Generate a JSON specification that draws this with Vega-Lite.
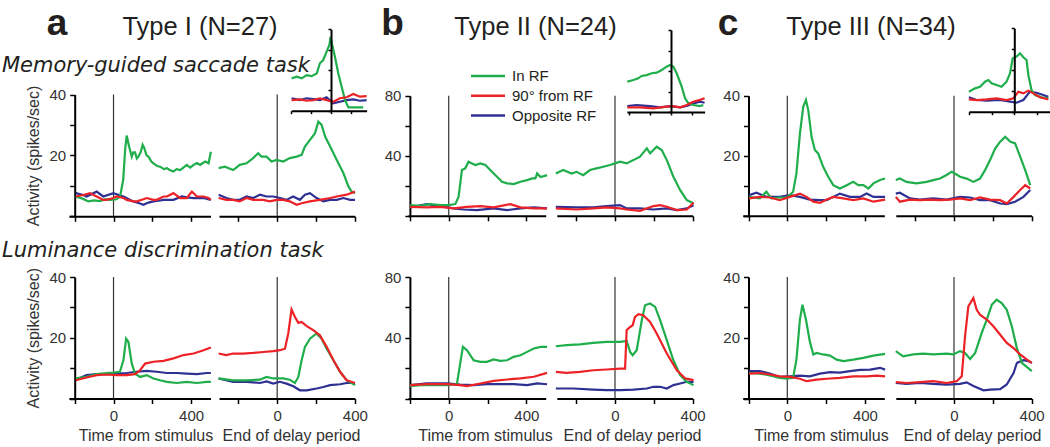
{
"$schema": "https://vega.github.io/schema/vega-lite/v6.json",
"width": 1050, "height": 447,
"autosize": {"type": "none"},
"padding": 0,
"background": "white",
"config": {
  "view": {"stroke": null},
  "font": "Liberation Sans",
  "line": {"strokeWidth": 2.2},
  "axis": {"domainColor": "#000", "domainWidth": 2, "tickColor": "#000", "tickWidth": 1.5, "tickSize": 5,
           "labelFont": "Liberation Sans", "labelFontSize": 15, "labelColor": "#333", "labelPadding": 4,
           "labelFlush": false, "labelOverlap": false, "grid": false,
           "titleFont": "Liberation Sans", "titleFontSize": 16, "titleFontWeight": "normal", "titleColor": "#333", "titlePadding": 4}
},
"datasets": {
"aL1": [
{"s":"b","t":-194,"v":7.6},{"s":"b","t":-156,"v":7.0},{"s":"b","t":-139,"v":6.5},{"s":"b","t":-87,"v":8.1},{"s":"b","t":-53,"v":6.5},{"s":"b","t":-1,"v":7.6},{"s":"b","t":51,"v":6.5},{"s":"b","t":102,"v":4.9},{"s":"b","t":137,"v":4.2},{"s":"b","t":154,"v":3.8},{"s":"b","t":180,"v":4.5},{"s":"b","t":206,"v":4.9},{"s":"b","t":240,"v":5.2},{"s":"b","t":258,"v":5.4},{"s":"b","t":309,"v":5.4},{"s":"b","t":352,"v":6.5},{"s":"b","t":378,"v":6.2},{"s":"b","t":413,"v":6.0},{"s":"b","t":464,"v":6.0},{"s":"b","t":502,"v":5.4},
{"s":"g","t":-195,"v":6.5},{"s":"g","t":-160,"v":5.8},{"s":"g","t":-130,"v":4.9},{"s":"g","t":-100,"v":5.2},{"s":"g","t":-70,"v":5.0},{"s":"g","t":-40,"v":5.6},{"s":"g","t":-18,"v":5.4},{"s":"g","t":16,"v":5.6},{"s":"g","t":34,"v":6.5},{"s":"g","t":50,"v":12},{"s":"g","t":60,"v":22},{"s":"g","t":68,"v":26.5},{"s":"g","t":80,"v":23},{"s":"g","t":94,"v":19.6},{"s":"g","t":102,"v":21},{"s":"g","t":111,"v":21},{"s":"g","t":120,"v":19},{"s":"g","t":128,"v":19.6},{"s":"g","t":140,"v":21},{"s":"g","t":150,"v":23.5},{"s":"g","t":158,"v":22.5},{"s":"g","t":170,"v":20},{"s":"g","t":180,"v":19.6},{"s":"g","t":195,"v":18},{"s":"g","t":206,"v":17.4},{"s":"g","t":225,"v":16.5},{"s":"g","t":240,"v":16.3},{"s":"g","t":260,"v":15.5},{"s":"g","t":275,"v":15.8},{"s":"g","t":290,"v":15.2},{"s":"g","t":309,"v":14.7},{"s":"g","t":325,"v":15.5},{"s":"g","t":344,"v":15.2},{"s":"g","t":360,"v":16},{"s":"g","t":378,"v":16.9},{"s":"g","t":395,"v":16},{"s":"g","t":413,"v":16.9},{"s":"g","t":430,"v":17.5},{"s":"g","t":447,"v":16.9},{"s":"g","t":460,"v":17.5},{"s":"g","t":473,"v":18},{"s":"g","t":490,"v":17.4},{"s":"g","t":502,"v":21.2},
{"s":"r","t":-194,"v":6.5},{"s":"r","t":-156,"v":7.0},{"s":"r","t":-121,"v":7.6},{"s":"r","t":-87,"v":6.5},{"s":"r","t":-53,"v":5.4},{"s":"r","t":-35,"v":5.4},{"s":"r","t":-1,"v":6.0},{"s":"r","t":16,"v":6.5},{"s":"r","t":51,"v":6.0},{"s":"r","t":68,"v":5.4},{"s":"r","t":102,"v":4.9},{"s":"r","t":120,"v":4.9},{"s":"r","t":154,"v":5.6},{"s":"r","t":171,"v":6.0},{"s":"r","t":206,"v":5.4},{"s":"r","t":223,"v":5.4},{"s":"r","t":258,"v":6.5},{"s":"r","t":275,"v":6.5},{"s":"r","t":309,"v":7.6},{"s":"r","t":344,"v":6.0},{"s":"r","t":378,"v":6.0},{"s":"r","t":404,"v":8.1},{"s":"r","t":430,"v":6.5},{"s":"r","t":464,"v":6.5},{"s":"r","t":490,"v":6.0},{"s":"r","t":502,"v":5.4}
],
"aR1": [
{"s":"b","t":-302,"v":7.1},{"s":"b","t":-262,"v":6.0},{"s":"b","t":-227,"v":5.4},{"s":"b","t":-193,"v":5.4},{"s":"b","t":-158,"v":6.5},{"s":"b","t":-124,"v":6.0},{"s":"b","t":-89,"v":7.1},{"s":"b","t":-55,"v":6.5},{"s":"b","t":-20,"v":6.5},{"s":"b","t":14,"v":6.0},{"s":"b","t":48,"v":5.4},{"s":"b","t":82,"v":6.5},{"s":"b","t":117,"v":5.4},{"s":"b","t":143,"v":7.1},{"s":"b","t":169,"v":7.6},{"s":"b","t":203,"v":6.0},{"s":"b","t":238,"v":4.9},{"s":"b","t":272,"v":5.4},{"s":"b","t":307,"v":5.4},{"s":"b","t":341,"v":6.0},{"s":"b","t":376,"v":5.4},{"s":"b","t":401,"v":5.4},
{"s":"g","t":-302,"v":15.8},{"s":"g","t":-270,"v":16.3},{"s":"g","t":-227,"v":15.2},{"s":"g","t":-193,"v":16.9},{"s":"g","t":-158,"v":17.4},{"s":"g","t":-124,"v":19.1},{"s":"g","t":-98,"v":20.7},{"s":"g","t":-81,"v":19.6},{"s":"g","t":-55,"v":19.6},{"s":"g","t":-29,"v":18},{"s":"g","t":-3,"v":18.5},{"s":"g","t":31,"v":18},{"s":"g","t":65,"v":19.1},{"s":"g","t":100,"v":19.6},{"s":"g","t":126,"v":20.2},{"s":"g","t":143,"v":22.9},{"s":"g","t":169,"v":25.1},{"s":"g","t":195,"v":27.3},{"s":"g","t":212,"v":31.1},{"s":"g","t":229,"v":30},{"s":"g","t":247,"v":26.2},{"s":"g","t":273,"v":22.9},{"s":"g","t":307,"v":18.5},{"s":"g","t":341,"v":14.2},{"s":"g","t":367,"v":9.8},{"s":"g","t":384,"v":8.1},{"s":"g","t":401,"v":7.6},
{"s":"r","t":-302,"v":6.0},{"s":"r","t":-262,"v":5.4},{"s":"r","t":-227,"v":5.4},{"s":"r","t":-193,"v":4.9},{"s":"r","t":-158,"v":6.0},{"s":"r","t":-124,"v":5.4},{"s":"r","t":-72,"v":5.4},{"s":"r","t":-38,"v":4.9},{"s":"r","t":-3,"v":5.4},{"s":"r","t":31,"v":5.4},{"s":"r","t":65,"v":4.9},{"s":"r","t":100,"v":3.8},{"s":"r","t":126,"v":4.3},{"s":"r","t":169,"v":4.9},{"s":"r","t":220,"v":5.4},{"s":"r","t":273,"v":6.0},{"s":"r","t":307,"v":6.5},{"s":"r","t":358,"v":7.1},{"s":"r","t":401,"v":8.1}
],
"aL2": [
{"s":"b","t":-194,"v":6.2},{"s":"b","t":-139,"v":7.7},{"s":"b","t":-87,"v":8.0},{"s":"b","t":-35,"v":8.0},{"s":"b","t":16,"v":8.2},{"s":"b","t":68,"v":8.4},{"s":"b","t":120,"v":8.8},{"s":"b","t":171,"v":9.1},{"s":"b","t":223,"v":8.8},{"s":"b","t":275,"v":8.4},{"s":"b","t":326,"v":8.4},{"s":"b","t":378,"v":8.2},{"s":"b","t":430,"v":8.0},{"s":"b","t":481,"v":8.4},{"s":"b","t":502,"v":8.4},
{"s":"g","t":-194,"v":6.6},{"s":"g","t":-139,"v":7.1},{"s":"g","t":-87,"v":8.0},{"s":"g","t":-35,"v":8.4},{"s":"g","t":-1,"v":8.5},{"s":"g","t":33,"v":8.8},{"s":"g","t":51,"v":12.6},{"s":"g","t":65,"v":19.7},{"s":"g","t":77,"v":18.6},{"s":"g","t":94,"v":11.5},{"s":"g","t":111,"v":8.2},{"s":"g","t":137,"v":7.1},{"s":"g","t":171,"v":7.7},{"s":"g","t":206,"v":6.6},{"s":"g","t":240,"v":6.0},{"s":"g","t":275,"v":5.5},{"s":"g","t":326,"v":5.1},{"s":"g","t":378,"v":5.5},{"s":"g","t":430,"v":5.1},{"s":"g","t":481,"v":5.5},{"s":"g","t":502,"v":5.5},
{"s":"r","t":-194,"v":6.0},{"s":"r","t":-139,"v":6.9},{"s":"r","t":-87,"v":7.7},{"s":"r","t":-35,"v":7.9},{"s":"r","t":16,"v":7.7},{"s":"r","t":68,"v":7.7},{"s":"r","t":111,"v":8.0},{"s":"r","t":137,"v":9.3},{"s":"r","t":163,"v":11.5},{"s":"r","t":206,"v":12.1},{"s":"r","t":258,"v":12.4},{"s":"r","t":309,"v":13.2},{"s":"r","t":361,"v":14.3},{"s":"r","t":413,"v":14.8},{"s":"r","t":464,"v":15.9},{"s":"r","t":502,"v":16.8}
],
"aR2": [
{"s":"b","t":-302,"v":6.6},{"s":"b","t":-227,"v":5.5},{"s":"b","t":-158,"v":5.5},{"s":"b","t":-89,"v":5.1},{"s":"b","t":-55,"v":5.6},{"s":"b","t":-20,"v":4.9},{"s":"b","t":14,"v":5.5},{"s":"b","t":48,"v":4.9},{"s":"b","t":83,"v":4.0},{"s":"b","t":117,"v":2.7},{"s":"b","t":152,"v":2.7},{"s":"b","t":203,"v":3.3},{"s":"b","t":238,"v":3.8},{"s":"b","t":272,"v":4.4},{"s":"b","t":324,"v":4.7},{"s":"b","t":358,"v":5.1},{"s":"b","t":401,"v":5.1},
{"s":"g","t":-302,"v":6.6},{"s":"g","t":-227,"v":6.0},{"s":"g","t":-158,"v":6.0},{"s":"g","t":-89,"v":6.2},{"s":"g","t":-55,"v":7.1},{"s":"g","t":-20,"v":6.6},{"s":"g","t":31,"v":6.6},{"s":"g","t":65,"v":6.2},{"s":"g","t":91,"v":5.1},{"s":"g","t":109,"v":7.1},{"s":"g","t":126,"v":12.6},{"s":"g","t":143,"v":17.0},{"s":"g","t":169,"v":19.7},{"s":"g","t":203,"v":21.4},{"s":"g","t":229,"v":19.7},{"s":"g","t":255,"v":16.4},{"s":"g","t":290,"v":12.6},{"s":"g","t":324,"v":8.8},{"s":"g","t":358,"v":6.0},{"s":"g","t":401,"v":4.4},
{"s":"r","t":-302,"v":14.8},{"s":"r","t":-262,"v":14.3},{"s":"r","t":-227,"v":14.8},{"s":"r","t":-176,"v":14.8},{"s":"r","t":-124,"v":15.0},{"s":"r","t":-72,"v":15.3},{"s":"r","t":-20,"v":15.6},{"s":"r","t":14,"v":15.9},{"s":"r","t":40,"v":16.4},{"s":"r","t":57,"v":21.4},{"s":"r","t":74,"v":29.3},{"s":"r","t":91,"v":26.9},{"s":"r","t":109,"v":24.9},{"s":"r","t":126,"v":25.2},{"s":"r","t":152,"v":23.8},{"s":"r","t":186,"v":22.5},{"s":"r","t":220,"v":20.8},{"s":"r","t":255,"v":17.0},{"s":"r","t":290,"v":12.6},{"s":"r","t":324,"v":8.8},{"s":"r","t":358,"v":6.0},{"s":"r","t":401,"v":5.1}
],
"bL1": [
{"s":"b","t":-199,"v":5.6},{"s":"b","t":-113,"v":7.8},{"s":"b","t":-44,"v":6.4},{"s":"b","t":25,"v":4.9},{"s":"b","t":77,"v":4.2},{"s":"b","t":146,"v":3.8},{"s":"b","t":232,"v":4.9},{"s":"b","t":301,"v":3.8},{"s":"b","t":370,"v":4.9},{"s":"b","t":439,"v":5.6},{"s":"b","t":507,"v":4.9},
{"s":"g","t":-199,"v":7.1},{"s":"g","t":-147,"v":6.7},{"s":"g","t":-96,"v":7.8},{"s":"g","t":-44,"v":7.1},{"s":"g","t":-1,"v":7.1},{"s":"g","t":34,"v":7.8},{"s":"g","t":51,"v":12.7},{"s":"g","t":68,"v":30.5},{"s":"g","t":85,"v":31.6},{"s":"g","t":102,"v":36},{"s":"g","t":120,"v":34.9},{"s":"g","t":137,"v":33.8},{"s":"g","t":163,"v":34.9},{"s":"g","t":189,"v":33.8},{"s":"g","t":214,"v":30.5},{"s":"g","t":249,"v":26},{"s":"g","t":275,"v":22.7},{"s":"g","t":301,"v":21.6},{"s":"g","t":335,"v":21.1},{"s":"g","t":370,"v":22.7},{"s":"g","t":404,"v":23.8},{"s":"g","t":430,"v":24.9},{"s":"g","t":447,"v":24.9},{"s":"g","t":456,"v":28.2},{"s":"g","t":473,"v":25.8},{"s":"g","t":490,"v":26.4},{"s":"g","t":507,"v":27.1},
{"s":"r","t":-199,"v":6.0},{"s":"r","t":-113,"v":5.6},{"s":"r","t":-44,"v":6.0},{"s":"r","t":25,"v":4.9},{"s":"r","t":94,"v":6.0},{"s":"r","t":163,"v":6.4},{"s":"r","t":232,"v":5.6},{"s":"r","t":318,"v":7.8},{"s":"r","t":370,"v":5.6},{"s":"r","t":439,"v":4.9},{"s":"r","t":507,"v":4.9}
],
"bR1": [
{"s":"b","t":-305,"v":6.0},{"s":"b","t":-198,"v":5.6},{"s":"b","t":-112,"v":5.6},{"s":"b","t":-43,"v":6.4},{"s":"b","t":26,"v":7.1},{"s":"b","t":60,"v":4.9},{"s":"b","t":129,"v":4.9},{"s":"b","t":198,"v":4.2},{"s":"b","t":267,"v":4.9},{"s":"b","t":319,"v":3.8},{"s":"b","t":370,"v":4.9},{"s":"b","t":405,"v":7.1},
{"s":"g","t":-305,"v":28.2},{"s":"g","t":-267,"v":30.5},{"s":"g","t":-224,"v":28.2},{"s":"g","t":-198,"v":29.3},{"s":"g","t":-164,"v":27.1},{"s":"g","t":-129,"v":30.5},{"s":"g","t":-95,"v":31.6},{"s":"g","t":-60,"v":32.7},{"s":"g","t":-26,"v":33.8},{"s":"g","t":0,"v":34.9},{"s":"g","t":26,"v":36},{"s":"g","t":60,"v":34.9},{"s":"g","t":95,"v":37.1},{"s":"g","t":129,"v":39.4},{"s":"g","t":164,"v":44.9},{"s":"g","t":181,"v":41.6},{"s":"g","t":215,"v":46},{"s":"g","t":241,"v":43.8},{"s":"g","t":267,"v":37.1},{"s":"g","t":301,"v":26},{"s":"g","t":336,"v":17.1},{"s":"g","t":370,"v":10.5},{"s":"g","t":405,"v":8.2},
{"s":"r","t":-305,"v":4.9},{"s":"r","t":-198,"v":4.2},{"s":"r","t":-112,"v":4.9},{"s":"r","t":-43,"v":5.6},{"s":"r","t":26,"v":4.9},{"s":"r","t":60,"v":4.2},{"s":"r","t":129,"v":3.3},{"s":"r","t":198,"v":6.5},{"s":"r","t":233,"v":7.1},{"s":"r","t":267,"v":6.0},{"s":"r","t":319,"v":3.8},{"s":"r","t":370,"v":4.2},{"s":"r","t":405,"v":8.7}
],
"bL2": [
{"s":"b","t":-199,"v":8.8},{"s":"b","t":-113,"v":9.9},{"s":"b","t":-9,"v":9.9},{"s":"b","t":59,"v":9.2},{"s":"b","t":128,"v":8.8},{"s":"b","t":197,"v":9.4},{"s":"b","t":266,"v":9.4},{"s":"b","t":335,"v":9.4},{"s":"b","t":404,"v":8.8},{"s":"b","t":456,"v":9.9},{"s":"b","t":507,"v":9.4},
{"s":"g","t":-199,"v":8.1},{"s":"g","t":-147,"v":8.8},{"s":"g","t":-78,"v":8.8},{"s":"g","t":-9,"v":8.8},{"s":"g","t":42,"v":9.4},{"s":"g","t":59,"v":23},{"s":"g","t":73,"v":34},{"s":"g","t":94,"v":31.8},{"s":"g","t":128,"v":25.2},{"s":"g","t":163,"v":24.1},{"s":"g","t":197,"v":24.1},{"s":"g","t":232,"v":25.7},{"s":"g","t":266,"v":24.8},{"s":"g","t":301,"v":25.2},{"s":"g","t":335,"v":27.4},{"s":"g","t":370,"v":28.5},{"s":"g","t":404,"v":30.7},{"s":"g","t":439,"v":32.9},{"s":"g","t":473,"v":34},{"s":"g","t":507,"v":34},
{"s":"r","t":-199,"v":8.8},{"s":"r","t":-113,"v":9.4},{"s":"r","t":-9,"v":9.4},{"s":"r","t":59,"v":8.8},{"s":"r","t":94,"v":8.1},{"s":"r","t":163,"v":9.9},{"s":"r","t":232,"v":11.6},{"s":"r","t":301,"v":12.5},{"s":"r","t":370,"v":13.2},{"s":"r","t":439,"v":14.3},{"s":"r","t":507,"v":16.9}
],
"bR2": [
{"s":"b","t":-305,"v":6.6},{"s":"b","t":-215,"v":6.6},{"s":"b","t":-112,"v":5.9},{"s":"b","t":-43,"v":5.5},{"s":"b","t":26,"v":5.5},{"s":"b","t":95,"v":5.9},{"s":"b","t":164,"v":6.6},{"s":"b","t":198,"v":7.7},{"s":"b","t":233,"v":7.7},{"s":"b","t":267,"v":6.6},{"s":"b","t":301,"v":8.8},{"s":"b","t":336,"v":9.9},{"s":"b","t":370,"v":11},{"s":"b","t":405,"v":11},
{"s":"g","t":-305,"v":34.4},{"s":"g","t":-250,"v":35.1},{"s":"g","t":-181,"v":35.7},{"s":"g","t":-112,"v":36.6},{"s":"g","t":-43,"v":37.3},{"s":"g","t":26,"v":37.3},{"s":"g","t":60,"v":37.9},{"s":"g","t":78,"v":30.7},{"s":"g","t":91,"v":28.5},{"s":"g","t":112,"v":31.8},{"s":"g","t":138,"v":51.5},{"s":"g","t":155,"v":61.4},{"s":"g","t":181,"v":62.5},{"s":"g","t":207,"v":60.3},{"s":"g","t":233,"v":51.5},{"s":"g","t":267,"v":38.4},{"s":"g","t":301,"v":25.2},{"s":"g","t":336,"v":15.4},{"s":"g","t":370,"v":11.0},{"s":"g","t":405,"v":8.8},
{"s":"r","t":-305,"v":17.5},{"s":"r","t":-250,"v":16.9},{"s":"r","t":-181,"v":17.5},{"s":"r","t":-112,"v":18.6},{"s":"r","t":-43,"v":19.1},{"s":"r","t":26,"v":19.7},{"s":"r","t":52,"v":19.7},{"s":"r","t":60,"v":45},{"s":"r","t":78,"v":47.1},{"s":"r","t":91,"v":48.2},{"s":"r","t":103,"v":53.7},{"s":"r","t":121,"v":55.5},{"s":"r","t":146,"v":54.8},{"s":"r","t":181,"v":50.4},{"s":"r","t":215,"v":42.8},{"s":"r","t":267,"v":29.6},{"s":"r","t":319,"v":18.6},{"s":"r","t":362,"v":13.2},{"s":"r","t":405,"v":12.1}
],
"cL1": [
{"s":"b","t":-197,"v":6.9},{"s":"b","t":-159,"v":7.7},{"s":"b","t":-108,"v":6.3},{"s":"b","t":-39,"v":6.3},{"s":"b","t":13,"v":6.9},{"s":"b","t":65,"v":6.3},{"s":"b","t":116,"v":5.4},{"s":"b","t":168,"v":5.2},{"s":"b","t":203,"v":5.2},{"s":"b","t":237,"v":6.3},{"s":"b","t":271,"v":7.4},{"s":"b","t":323,"v":6.3},{"s":"b","t":375,"v":6.3},{"s":"b","t":409,"v":7.4},{"s":"b","t":444,"v":6.3},{"s":"b","t":504,"v":6.3},
{"s":"g","t":-197,"v":6.3},{"s":"g","t":-142,"v":5.8},{"s":"g","t":-108,"v":8},{"s":"g","t":-82,"v":5.8},{"s":"g","t":-39,"v":6.1},{"s":"g","t":-1,"v":6.1},{"s":"g","t":30,"v":8},{"s":"g","t":47,"v":14.1},{"s":"g","t":65,"v":27.4},{"s":"g","t":82,"v":36.3},{"s":"g","t":96,"v":38.6},{"s":"g","t":108,"v":35.2},{"s":"g","t":125,"v":26.3},{"s":"g","t":142,"v":21.9},{"s":"g","t":159,"v":20.8},{"s":"g","t":185,"v":16.3},{"s":"g","t":211,"v":13},{"s":"g","t":237,"v":10.2},{"s":"g","t":271,"v":9.1},{"s":"g","t":306,"v":10.2},{"s":"g","t":340,"v":11.3},{"s":"g","t":366,"v":10.2},{"s":"g","t":392,"v":10.2},{"s":"g","t":418,"v":9.1},{"s":"g","t":444,"v":10.8},{"s":"g","t":478,"v":11.9},{"s":"g","t":504,"v":12.4},
{"s":"r","t":-197,"v":5.8},{"s":"r","t":-142,"v":6.3},{"s":"r","t":-90,"v":6.1},{"s":"r","t":-39,"v":5.2},{"s":"r","t":13,"v":6.3},{"s":"r","t":65,"v":7.4},{"s":"r","t":99,"v":6.3},{"s":"r","t":134,"v":4.7},{"s":"r","t":168,"v":4.3},{"s":"r","t":203,"v":5.4},{"s":"r","t":237,"v":6.3},{"s":"r","t":289,"v":5.8},{"s":"r","t":340,"v":5.2},{"s":"r","t":392,"v":5.8},{"s":"r","t":444,"v":4.7},{"s":"r","t":504,"v":5.4}
],
"cR1": [
{"s":"b","t":-300,"v":7.4},{"s":"b","t":-279,"v":7.7},{"s":"b","t":-227,"v":5.8},{"s":"b","t":-176,"v":5.4},{"s":"b","t":-107,"v":5.8},{"s":"b","t":-38,"v":5.4},{"s":"b","t":31,"v":6.3},{"s":"b","t":83,"v":6.1},{"s":"b","t":134,"v":5.2},{"s":"b","t":186,"v":5.2},{"s":"b","t":238,"v":4.1},{"s":"b","t":272,"v":3.9},{"s":"b","t":315,"v":4.7},{"s":"b","t":358,"v":6.3},{"s":"b","t":393,"v":8.6},
{"s":"g","t":-300,"v":11.9},{"s":"g","t":-279,"v":12.4},{"s":"g","t":-245,"v":11.3},{"s":"g","t":-193,"v":10.8},{"s":"g","t":-141,"v":11.3},{"s":"g","t":-107,"v":11.9},{"s":"g","t":-72,"v":12.4},{"s":"g","t":-38,"v":13.6},{"s":"g","t":-12,"v":14.7},{"s":"g","t":5,"v":14.1},{"s":"g","t":31,"v":13},{"s":"g","t":65,"v":12.4},{"s":"g","t":100,"v":11.3},{"s":"g","t":134,"v":12.4},{"s":"g","t":160,"v":15.2},{"s":"g","t":186,"v":18.6},{"s":"g","t":212,"v":22.4},{"s":"g","t":238,"v":24.7},{"s":"g","t":264,"v":26.3},{"s":"g","t":289,"v":24.7},{"s":"g","t":315,"v":24.1},{"s":"g","t":341,"v":19.7},{"s":"g","t":367,"v":15.2},{"s":"g","t":393,"v":10.2},
{"s":"r","t":-300,"v":6.3},{"s":"r","t":-279,"v":4.7},{"s":"r","t":-227,"v":5.4},{"s":"r","t":-176,"v":5.2},{"s":"r","t":-124,"v":5.4},{"s":"r","t":-72,"v":5.2},{"s":"r","t":-21,"v":5.4},{"s":"r","t":31,"v":5.8},{"s":"r","t":83,"v":5.2},{"s":"r","t":134,"v":6.1},{"s":"r","t":186,"v":5.4},{"s":"r","t":238,"v":5.2},{"s":"r","t":272,"v":4.1},{"s":"r","t":307,"v":6.3},{"s":"r","t":341,"v":8.6},{"s":"r","t":367,"v":10.2},{"s":"r","t":393,"v":9.1}
],
"cL2": [
{"s":"b","t":-197,"v":9.0},{"s":"b","t":-142,"v":9.0},{"s":"b","t":-90,"v":8.2},{"s":"b","t":-39,"v":7.1},{"s":"b","t":13,"v":7.3},{"s":"b","t":65,"v":7.5},{"s":"b","t":116,"v":7.3},{"s":"b","t":168,"v":8.2},{"s":"b","t":220,"v":8.7},{"s":"b","t":271,"v":8.5},{"s":"b","t":323,"v":9.0},{"s":"b","t":375,"v":9.4},{"s":"b","t":427,"v":9.5},{"s":"b","t":478,"v":10.1},{"s":"b","t":504,"v":9.5},
{"s":"g","t":-197,"v":8.4},{"s":"g","t":-142,"v":8.2},{"s":"g","t":-90,"v":7.6},{"s":"g","t":-39,"v":6.8},{"s":"g","t":-4,"v":6.5},{"s":"g","t":30,"v":6.8},{"s":"g","t":47,"v":12.8},{"s":"g","t":65,"v":26},{"s":"g","t":78,"v":30.9},{"s":"g","t":96,"v":26},{"s":"g","t":116,"v":18.8},{"s":"g","t":134,"v":14.5},{"s":"g","t":151,"v":15},{"s":"g","t":185,"v":14.5},{"s":"g","t":220,"v":14.1},{"s":"g","t":254,"v":12.8},{"s":"g","t":289,"v":12.3},{"s":"g","t":340,"v":12.8},{"s":"g","t":392,"v":13.4},{"s":"g","t":444,"v":14.1},{"s":"g","t":504,"v":14.7},
{"s":"r","t":-197,"v":8.2},{"s":"r","t":-142,"v":8.4},{"s":"r","t":-90,"v":7.9},{"s":"r","t":-39,"v":7.3},{"s":"r","t":13,"v":7.1},{"s":"r","t":65,"v":6.5},{"s":"r","t":99,"v":5.7},{"s":"r","t":151,"v":6.2},{"s":"r","t":203,"v":6.5},{"s":"r","t":271,"v":6.8},{"s":"r","t":340,"v":7.3},{"s":"r","t":409,"v":7.3},{"s":"r","t":461,"v":7.5},{"s":"r","t":504,"v":7.3}
],
"cR2": [
{"s":"b","t":-300,"v":5.1},{"s":"b","t":-245,"v":4.8},{"s":"b","t":-176,"v":5.1},{"s":"b","t":-107,"v":4.8},{"s":"b","t":-38,"v":4.6},{"s":"b","t":31,"v":4.8},{"s":"b","t":65,"v":5.3},{"s":"b","t":100,"v":4.1},{"s":"b","t":152,"v":2.7},{"s":"b","t":186,"v":2.9},{"s":"b","t":238,"v":3.1},{"s":"b","t":272,"v":4.6},{"s":"b","t":307,"v":8.4},{"s":"b","t":324,"v":11.7},{"s":"b","t":358,"v":12.6},{"s":"b","t":384,"v":12.3},{"s":"b","t":401,"v":11.7},
{"s":"g","t":-300,"v":15.6},{"s":"g","t":-262,"v":13.9},{"s":"g","t":-210,"v":14.5},{"s":"g","t":-158,"v":14.8},{"s":"g","t":-107,"v":14.5},{"s":"g","t":-38,"v":14.8},{"s":"g","t":-3,"v":14.5},{"s":"g","t":31,"v":15.6},{"s":"g","t":57,"v":15},{"s":"g","t":83,"v":13},{"s":"g","t":109,"v":15},{"s":"g","t":143,"v":21.6},{"s":"g","t":169,"v":26},{"s":"g","t":195,"v":30.9},{"s":"g","t":220,"v":32.5},{"s":"g","t":246,"v":31.4},{"s":"g","t":272,"v":29.2},{"s":"g","t":298,"v":23.8},{"s":"g","t":324,"v":16.6},{"s":"g","t":350,"v":11.7},{"s":"g","t":401,"v":9.0},
{"s":"r","t":-300,"v":5.4},{"s":"r","t":-245,"v":5.1},{"s":"r","t":-176,"v":5.4},{"s":"r","t":-107,"v":5.7},{"s":"r","t":-38,"v":5.1},{"s":"r","t":14,"v":5.7},{"s":"r","t":40,"v":7.3},{"s":"r","t":57,"v":20.5},{"s":"r","t":74,"v":30.3},{"s":"r","t":100,"v":33.1},{"s":"r","t":117,"v":29.2},{"s":"r","t":134,"v":27.6},{"s":"r","t":169,"v":26},{"s":"r","t":203,"v":23.8},{"s":"r","t":238,"v":21},{"s":"r","t":272,"v":18.3},{"s":"r","t":307,"v":16.6},{"s":"r","t":341,"v":14.5},{"s":"r","t":376,"v":12.8},{"s":"r","t":401,"v":11.7}
],
"aI": [
{"s":"b","t":-199,"v":6.1},{"s":"b","t":-157,"v":5.2},{"s":"b","t":-123,"v":6.1},{"s":"b","t":-89,"v":5.7},{"s":"b","t":-56,"v":5.2},{"s":"b","t":-22,"v":6.6},{"s":"b","t":12,"v":3.6},{"s":"b","t":45,"v":4.4},{"s":"b","t":79,"v":5.2},{"s":"b","t":113,"v":5.6},{"s":"b","t":146,"v":4.9},{"s":"b","t":180,"v":5.2},
{"s":"g","t":-199,"v":15.9},{"s":"g","t":-173,"v":16.7},{"s":"g","t":-148,"v":15.9},{"s":"g","t":-123,"v":17.5},{"s":"g","t":-98,"v":17},{"s":"g","t":-72,"v":18.3},{"s":"g","t":-56,"v":23.3},{"s":"g","t":-39,"v":24.9},{"s":"g","t":-22,"v":29},{"s":"g","t":-8,"v":32.3},{"s":"g","t":-2,"v":36.4},{"s":"g","t":8,"v":31.5},{"s":"g","t":20,"v":26.5},{"s":"g","t":37,"v":18.3},{"s":"g","t":54,"v":11.8},{"s":"g","t":71,"v":5.2},{"s":"g","t":88,"v":1.6},{"s":"g","t":113,"v":1.6},{"s":"g","t":146,"v":1.6},{"s":"g","t":163,"v":1.6},
{"s":"r","t":-199,"v":5.2},{"s":"r","t":-157,"v":5.6},{"s":"r","t":-123,"v":4.9},{"s":"r","t":-89,"v":5.2},{"s":"r","t":-56,"v":6.1},{"s":"r","t":-22,"v":5.2},{"s":"r","t":12,"v":4.4},{"s":"r","t":45,"v":6.1},{"s":"r","t":79,"v":6.6},{"s":"r","t":113,"v":8.2},{"s":"r","t":146,"v":6.9},{"s":"r","t":180,"v":7.2}
],
"bI": [
{"s":"b","t":-208,"v":2.9},{"s":"b","t":-164,"v":3.4},{"s":"b","t":-100,"v":2.9},{"s":"b","t":-52,"v":2.3},{"s":"b","t":-5,"v":2.9},{"s":"b","t":43,"v":2.3},{"s":"b","t":75,"v":2.9},{"s":"b","t":106,"v":4.2},{"s":"b","t":138,"v":5},{"s":"b","t":160,"v":4.5},
{"s":"g","t":-208,"v":14.8},{"s":"g","t":-179,"v":15.6},{"s":"g","t":-156,"v":16.4},{"s":"g","t":-140,"v":17.6},{"s":"g","t":-116,"v":18},{"s":"g","t":-92,"v":18.9},{"s":"g","t":-68,"v":19.2},{"s":"g","t":-44,"v":20.5},{"s":"g","t":-21,"v":22.1},{"s":"g","t":-5,"v":22.9},{"s":"g","t":11,"v":22.1},{"s":"g","t":27,"v":18.9},{"s":"g","t":51,"v":12.4},{"s":"g","t":67,"v":6.7},{"s":"g","t":83,"v":4.2},{"s":"g","t":106,"v":3.4},{"s":"g","t":138,"v":2.9},{"s":"g","t":154,"v":3.4},
{"s":"r","t":-208,"v":2.3},{"s":"r","t":-148,"v":2.3},{"s":"r","t":-84,"v":1.8},{"s":"r","t":-21,"v":2.6},{"s":"r","t":11,"v":2.9},{"s":"r","t":43,"v":2.3},{"s":"r","t":75,"v":3.4},{"s":"r","t":106,"v":5},{"s":"r","t":138,"v":5.9},{"s":"r","t":160,"v":6.7}
],
"cI": [
{"s":"b","t":-200,"v":6.9},{"s":"b","t":-166,"v":5.6},{"s":"b","t":-122,"v":5.3},{"s":"b","t":-63,"v":5.6},{"s":"b","t":-19,"v":4.8},{"s":"b","t":10,"v":4.3},{"s":"b","t":40,"v":5.6},{"s":"b","t":69,"v":9.6},{"s":"b","t":98,"v":9.1},{"s":"b","t":128,"v":8},{"s":"b","t":150,"v":7.2},
{"s":"g","t":-200,"v":9.6},{"s":"g","t":-173,"v":11.2},{"s":"g","t":-151,"v":12},{"s":"g","t":-129,"v":14.4},{"s":"g","t":-114,"v":15.2},{"s":"g","t":-100,"v":13.6},{"s":"g","t":-78,"v":12.8},{"s":"g","t":-56,"v":12},{"s":"g","t":-34,"v":14.4},{"s":"g","t":-19,"v":18.4},{"s":"g","t":-7,"v":25.6},{"s":"g","t":10,"v":26.4},{"s":"g","t":25,"v":28},{"s":"g","t":40,"v":26.1},{"s":"g","t":54,"v":24.8},{"s":"g","t":62,"v":17.6},{"s":"g","t":76,"v":10.4},{"s":"g","t":91,"v":8},{"s":"g","t":120,"v":6.9},{"s":"g","t":150,"v":6.4},
{"s":"r","t":-200,"v":5.9},{"s":"r","t":-166,"v":5.6},{"s":"r","t":-122,"v":5.9},{"s":"r","t":-78,"v":6.4},{"s":"r","t":-34,"v":5.6},{"s":"r","t":-4,"v":6.4},{"s":"r","t":18,"v":9.6},{"s":"r","t":40,"v":8.8},{"s":"r","t":62,"v":10.1},{"s":"r","t":84,"v":8.8},{"s":"r","t":113,"v":6.9},{"s":"r","t":150,"v":5.9}
]
},
"resolve": {"scale": {"x": "independent", "y": "independent", "color": "shared"}, "axis": {"x": "independent", "y": "independent"}},
"layer": [
{"data": {"values": [{}]}, "mark": {"type": "rule", "color": "#333", "strokeWidth": 1.2},
 "encoding": {"x": {"datum": 0, "type": "quantitative", "scale": {"domain": [-230, 500], "range": [68.9, 210.5], "nice": false, "zero": false}, "axis": null},
              "y": {"datum": 0, "type": "quantitative", "scale": {"domain": [0, 40], "range": [216.3, 94.5], "nice": false, "zero": false}, "axis": null},
              "y2": {"datum": 40}}},
{"data": {"values": [{}]}, "mark": {"type": "rule", "color": "#333", "strokeWidth": 1.2},
 "encoding": {"x": {"datum": 0, "type": "quantitative", "scale": {"domain": [-300, 400], "range": [219, 354.8], "nice": false, "zero": false}, "axis": null},
              "y": {"datum": 0, "type": "quantitative", "scale": {"domain": [0, 40], "range": [216.3, 94.5], "nice": false, "zero": false}, "axis": null},
              "y2": {"datum": 40}}},
{"data": {"values": [{}]}, "mark": {"type": "rule", "color": "#333", "strokeWidth": 1.2},
 "encoding": {"x": {"datum": 0, "type": "quantitative", "scale": {"domain": [-230, 500], "range": [68.9, 210.5], "nice": false, "zero": false}, "axis": null},
              "y": {"datum": 0, "type": "quantitative", "scale": {"domain": [0, 40], "range": [398.5, 277], "nice": false, "zero": false}, "axis": null},
              "y2": {"datum": 40}}},
{"data": {"values": [{}]}, "mark": {"type": "rule", "color": "#333", "strokeWidth": 1.2},
 "encoding": {"x": {"datum": 0, "type": "quantitative", "scale": {"domain": [-300, 400], "range": [219, 354.8], "nice": false, "zero": false}, "axis": null},
              "y": {"datum": 0, "type": "quantitative", "scale": {"domain": [0, 40], "range": [398.5, 277], "nice": false, "zero": false}, "axis": null},
              "y2": {"datum": 40}}},
{"data": {"values": [{}]}, "mark": {"type": "rule", "color": "#333", "strokeWidth": 1.2},
 "encoding": {"x": {"datum": 0, "type": "quantitative", "scale": {"domain": [-210, 500], "range": [408, 545.7], "nice": false, "zero": false}, "axis": null},
              "y": {"datum": 0, "type": "quantitative", "scale": {"domain": [0, 80], "range": [215.8, 95.7], "nice": false, "zero": false}, "axis": null},
              "y2": {"datum": 80}}},
{"data": {"values": [{}]}, "mark": {"type": "rule", "color": "#333", "strokeWidth": 1.2},
 "encoding": {"x": {"datum": 0, "type": "quantitative", "scale": {"domain": [-300, 400], "range": [556.8, 692.6], "nice": false, "zero": false}, "axis": null},
              "y": {"datum": 0, "type": "quantitative", "scale": {"domain": [0, 80], "range": [215.8, 95.7], "nice": false, "zero": false}, "axis": null},
              "y2": {"datum": 80}}},
{"data": {"values": [{}]}, "mark": {"type": "rule", "color": "#333", "strokeWidth": 1.2},
 "encoding": {"x": {"datum": 0, "type": "quantitative", "scale": {"domain": [-210, 500], "range": [408, 545.7], "nice": false, "zero": false}, "axis": null},
              "y": {"datum": 0, "type": "quantitative", "scale": {"domain": [0, 80], "range": [398.5, 277], "nice": false, "zero": false}, "axis": null},
              "y2": {"datum": 80}}},
{"data": {"values": [{}]}, "mark": {"type": "rule", "color": "#333", "strokeWidth": 1.2},
 "encoding": {"x": {"datum": 0, "type": "quantitative", "scale": {"domain": [-300, 400], "range": [556.8, 692.6], "nice": false, "zero": false}, "axis": null},
              "y": {"datum": 0, "type": "quantitative", "scale": {"domain": [0, 80], "range": [398.5, 277], "nice": false, "zero": false}, "axis": null},
              "y2": {"datum": 80}}},
{"data": {"values": [{}]}, "mark": {"type": "rule", "color": "#333", "strokeWidth": 1.2},
 "encoding": {"x": {"datum": 0, "type": "quantitative", "scale": {"domain": [-230, 500], "range": [742.7, 884.3], "nice": false, "zero": false}, "axis": null},
              "y": {"datum": 0, "type": "quantitative", "scale": {"domain": [0, 40], "range": [215.8, 95.7], "nice": false, "zero": false}, "axis": null},
              "y2": {"datum": 40}}},
{"data": {"values": [{}]}, "mark": {"type": "rule", "color": "#333", "strokeWidth": 1.2},
 "encoding": {"x": {"datum": 0, "type": "quantitative", "scale": {"domain": [-300, 400], "range": [895.8, 1031.6], "nice": false, "zero": false}, "axis": null},
              "y": {"datum": 0, "type": "quantitative", "scale": {"domain": [0, 40], "range": [215.8, 95.7], "nice": false, "zero": false}, "axis": null},
              "y2": {"datum": 40}}},
{"data": {"values": [{}]}, "mark": {"type": "rule", "color": "#333", "strokeWidth": 1.2},
 "encoding": {"x": {"datum": 0, "type": "quantitative", "scale": {"domain": [-230, 500], "range": [742.7, 884.3], "nice": false, "zero": false}, "axis": null},
              "y": {"datum": 0, "type": "quantitative", "scale": {"domain": [0, 40], "range": [398.5, 277], "nice": false, "zero": false}, "axis": null},
              "y2": {"datum": 40}}},
{"data": {"values": [{}]}, "mark": {"type": "rule", "color": "#333", "strokeWidth": 1.2},
 "encoding": {"x": {"datum": 0, "type": "quantitative", "scale": {"domain": [-300, 400], "range": [895.8, 1031.6], "nice": false, "zero": false}, "axis": null},
              "y": {"datum": 0, "type": "quantitative", "scale": {"domain": [0, 40], "range": [398.5, 277], "nice": false, "zero": false}, "axis": null},
              "y2": {"datum": 40}}},
{"data": {"name": "aL1"}, "mark": {"type": "line"},
 "encoding": {"x": {"field": "t", "type": "quantitative", "scale": {"domain": [-230, 500], "range": [68.9, 210.5], "nice": false, "zero": false},
                    "axis": {"orient": "bottom", "offset": -230.7, "values": [-200, 0, 200, 400], "labels": false, "title": null}},
              "y": {"field": "v", "type": "quantitative", "scale": {"domain": [0, 40], "range": [216.3, 94.5], "nice": false, "zero": false},
                    "axis": {"orient": "left", "offset": -74.7, "values": [0, 10, 20, 30, 40], "labelExpr": "datum.value == 20 || datum.value == 40 ? datum.label : ''", "title": "Activity (spikes/sec)", "titleFontSize": 16, "titlePadding": 8}},
              "color": {"field": "s", "type": "nominal", "scale": {"domain": ["g", "r", "b"], "range": ["#1fae4b", "#ec2227", "#2e3192"]}, "legend": null}}},
{"data": {"name": "aR1"}, "mark": {"type": "line"},
 "encoding": {"x": {"field": "t", "type": "quantitative", "scale": {"domain": [-300, 400], "range": [219, 354.8], "nice": false, "zero": false},
                    "axis": {"orient": "bottom", "offset": -230.7, "values": [-200, 0, 200, 400], "labels": false, "title": null}},
              "y": {"field": "v", "type": "quantitative", "scale": {"domain": [0, 40], "range": [216.3, 94.5], "nice": false, "zero": false}, "axis": null},
              "color": {"field": "s", "type": "nominal", "scale": {"domain": ["g", "r", "b"], "range": ["#1fae4b", "#ec2227", "#2e3192"]}, "legend": null}}},
{"data": {"name": "aL2"}, "mark": {"type": "line"},
 "encoding": {"x": {"field": "t", "type": "quantitative", "scale": {"domain": [-230, 500], "range": [68.9, 210.5], "nice": false, "zero": false},
                    "axis": {"orient": "bottom", "offset": -48.5, "values": [-200, 0, 200, 400], "labelPadding": 5, "labelExpr": "datum.value == 0 || datum.value == 400 ? datum.label : ''", "title": "Time from stimulus", "titleX": 145.5}},
              "y": {"field": "v", "type": "quantitative", "scale": {"domain": [0, 40], "range": [398.5, 277], "nice": false, "zero": false},
                    "axis": {"orient": "left", "offset": -74.7, "values": [0, 10, 20, 30, 40], "labelExpr": "datum.value == 20 || datum.value == 40 ? datum.label : ''", "title": "Activity (spikes/sec)", "titleFontSize": 16, "titlePadding": 8}},
              "color": {"field": "s", "type": "nominal", "scale": {"domain": ["g", "r", "b"], "range": ["#1fae4b", "#ec2227", "#2e3192"]}, "legend": null}}},
{"data": {"name": "aR2"}, "mark": {"type": "line"},
 "encoding": {"x": {"field": "t", "type": "quantitative", "scale": {"domain": [-300, 400], "range": [219, 354.8], "nice": false, "zero": false},
                    "axis": {"orient": "bottom", "offset": -48.5, "values": [-200, 0, 200, 400], "labelPadding": 5, "labelExpr": "datum.value == 0 || datum.value == 400 ? datum.label : ''", "title": "End of delay period", "titleX": 291}},
              "y": {"field": "v", "type": "quantitative", "scale": {"domain": [0, 40], "range": [398.5, 277], "nice": false, "zero": false}, "axis": null},
              "color": {"field": "s", "type": "nominal", "scale": {"domain": ["g", "r", "b"], "range": ["#1fae4b", "#ec2227", "#2e3192"]}, "legend": null}}},
{"data": {"name": "bL1"}, "mark": {"type": "line"},
 "encoding": {"x": {"field": "t", "type": "quantitative", "scale": {"domain": [-210, 500], "range": [408, 545.7], "nice": false, "zero": false},
                    "axis": {"orient": "bottom", "offset": -231.2, "values": [-200, 0, 200, 400], "labels": false, "title": null}},
              "y": {"field": "v", "type": "quantitative", "scale": {"domain": [0, 80], "range": [215.8, 95.7], "nice": false, "zero": false},
                    "axis": {"orient": "left", "offset": -409.9, "values": [0, 20, 40, 60, 80], "labelExpr": "datum.value == 40 || datum.value == 80 ? datum.label : ''", "title": null}},
              "color": {"field": "s", "type": "nominal", "scale": {"domain": ["g", "r", "b"], "range": ["#1fae4b", "#ec2227", "#2e3192"]}, "legend": null}}},
{"data": {"name": "bR1"}, "mark": {"type": "line"},
 "encoding": {"x": {"field": "t", "type": "quantitative", "scale": {"domain": [-300, 400], "range": [556.8, 692.6], "nice": false, "zero": false},
                    "axis": {"orient": "bottom", "offset": -231.2, "values": [-200, 0, 200, 400], "labels": false, "title": null}},
              "y": {"field": "v", "type": "quantitative", "scale": {"domain": [0, 80], "range": [215.8, 95.7], "nice": false, "zero": false}, "axis": null},
              "color": {"field": "s", "type": "nominal", "scale": {"domain": ["g", "r", "b"], "range": ["#1fae4b", "#ec2227", "#2e3192"]}, "legend": null}}},
{"data": {"name": "bL2"}, "mark": {"type": "line"},
 "encoding": {"x": {"field": "t", "type": "quantitative", "scale": {"domain": [-210, 500], "range": [408, 545.7], "nice": false, "zero": false},
                    "axis": {"orient": "bottom", "offset": -48.5, "values": [-200, 0, 200, 400], "labelPadding": 5, "labelExpr": "datum.value == 0 || datum.value == 400 ? datum.label : ''", "title": "Time from stimulus", "titleX": 485}},
              "y": {"field": "v", "type": "quantitative", "scale": {"domain": [0, 80], "range": [398.5, 277], "nice": false, "zero": false},
                    "axis": {"orient": "left", "offset": -409.9, "values": [0, 20, 40, 60, 80], "labelExpr": "datum.value == 40 || datum.value == 80 ? datum.label : ''", "title": null}},
              "color": {"field": "s", "type": "nominal", "scale": {"domain": ["g", "r", "b"], "range": ["#1fae4b", "#ec2227", "#2e3192"]}, "legend": null}}},
{"data": {"name": "bR2"}, "mark": {"type": "line"},
 "encoding": {"x": {"field": "t", "type": "quantitative", "scale": {"domain": [-300, 400], "range": [556.8, 692.6], "nice": false, "zero": false},
                    "axis": {"orient": "bottom", "offset": -48.5, "values": [-200, 0, 200, 400], "labelPadding": 5, "labelExpr": "datum.value == 0 || datum.value == 400 ? datum.label : ''", "title": "End of delay period", "titleX": 632}},
              "y": {"field": "v", "type": "quantitative", "scale": {"domain": [0, 80], "range": [398.5, 277], "nice": false, "zero": false}, "axis": null},
              "color": {"field": "s", "type": "nominal", "scale": {"domain": ["g", "r", "b"], "range": ["#1fae4b", "#ec2227", "#2e3192"]}, "legend": null}}},
{"data": {"name": "cL1"}, "mark": {"type": "line"},
 "encoding": {"x": {"field": "t", "type": "quantitative", "scale": {"domain": [-230, 500], "range": [742.7, 884.3], "nice": false, "zero": false},
                    "axis": {"orient": "bottom", "offset": -231.2, "values": [-200, 0, 200, 400], "labels": false, "title": null}},
              "y": {"field": "v", "type": "quantitative", "scale": {"domain": [0, 40], "range": [215.8, 95.7], "nice": false, "zero": false},
                    "axis": {"orient": "left", "offset": -748.5, "values": [0, 10, 20, 30, 40], "labelExpr": "datum.value == 20 || datum.value == 40 ? datum.label : ''", "title": null}},
              "color": {"field": "s", "type": "nominal", "scale": {"domain": ["g", "r", "b"], "range": ["#1fae4b", "#ec2227", "#2e3192"]}, "legend": null}}},
{"data": {"name": "cR1"}, "mark": {"type": "line"},
 "encoding": {"x": {"field": "t", "type": "quantitative", "scale": {"domain": [-300, 400], "range": [895.8, 1031.6], "nice": false, "zero": false},
                    "axis": {"orient": "bottom", "offset": -231.2, "values": [-200, 0, 200, 400], "labels": false, "title": null}},
              "y": {"field": "v", "type": "quantitative", "scale": {"domain": [0, 40], "range": [215.8, 95.7], "nice": false, "zero": false}, "axis": null},
              "color": {"field": "s", "type": "nominal", "scale": {"domain": ["g", "r", "b"], "range": ["#1fae4b", "#ec2227", "#2e3192"]}, "legend": null}}},
{"data": {"name": "cL2"}, "mark": {"type": "line"},
 "encoding": {"x": {"field": "t", "type": "quantitative", "scale": {"domain": [-230, 500], "range": [742.7, 884.3], "nice": false, "zero": false},
                    "axis": {"orient": "bottom", "offset": -48.5, "values": [-200, 0, 200, 400], "labelPadding": 5, "labelExpr": "datum.value == 0 || datum.value == 400 ? datum.label : ''", "title": "Time from stimulus", "titleX": 821}},
              "y": {"field": "v", "type": "quantitative", "scale": {"domain": [0, 40], "range": [398.5, 277], "nice": false, "zero": false},
                    "axis": {"orient": "left", "offset": -748.5, "values": [0, 10, 20, 30, 40], "labelExpr": "datum.value == 20 || datum.value == 40 ? datum.label : ''", "title": null}},
              "color": {"field": "s", "type": "nominal", "scale": {"domain": ["g", "r", "b"], "range": ["#1fae4b", "#ec2227", "#2e3192"]}, "legend": null}}},
{"data": {"name": "cR2"}, "mark": {"type": "line"},
 "encoding": {"x": {"field": "t", "type": "quantitative", "scale": {"domain": [-300, 400], "range": [895.8, 1031.6], "nice": false, "zero": false},
                    "axis": {"orient": "bottom", "offset": -48.5, "values": [-200, 0, 200, 400], "labelPadding": 5, "labelExpr": "datum.value == 0 || datum.value == 400 ? datum.label : ''", "title": "End of delay period", "titleX": 972}},
              "y": {"field": "v", "type": "quantitative", "scale": {"domain": [0, 40], "range": [398.5, 277], "nice": false, "zero": false}, "axis": null},
              "color": {"field": "s", "type": "nominal", "scale": {"domain": ["g", "r", "b"], "range": ["#1fae4b", "#ec2227", "#2e3192"]}, "legend": null}}},
{"data": {"name": "aI"}, "mark": {"type": "line"},
 "encoding": {"x": {"field": "t", "type": "quantitative", "scale": {"domain": [-200, 180], "range": [291.4, 366.6], "nice": false, "zero": false},
                    "axis": {"orient": "bottom", "offset": -336.3, "values": [-200, -100, 0, 100], "labels": false, "tickSize": 3, "title": null}},
              "y": {"field": "v", "type": "quantitative", "scale": {"domain": [0, 40], "range": [110.7, 29.3], "nice": false, "zero": false},
                    "axis": {"orient": "left", "offset": -331, "values": [0, 10, 20, 30, 40], "labels": false, "tickSize": 3, "title": null, "zindex": 1}},
              "color": {"field": "s", "type": "nominal", "scale": {"domain": ["g", "r", "b"], "range": ["#1fae4b", "#ec2227", "#2e3192"]}, "legend": null}}},
{"data": {"name": "bI"}, "mark": {"type": "line"},
 "encoding": {"x": {"field": "t", "type": "quantitative", "scale": {"domain": [-210, 160], "range": [626.9, 704.6], "nice": false, "zero": false},
                    "axis": {"orient": "bottom", "offset": -335, "values": [-200, -100, 0, 100], "labels": false, "tickSize": 3, "title": null}},
              "y": {"field": "v", "type": "quantitative", "scale": {"domain": [0, 40], "range": [112, 30], "nice": false, "zero": false},
                    "axis": {"orient": "left", "offset": -671, "values": [0, 10, 20, 30, 40], "labels": false, "tickSize": 3, "title": null, "zindex": 1}},
              "color": {"field": "s", "type": "nominal", "scale": {"domain": ["g", "r", "b"], "range": ["#1fae4b", "#ec2227", "#2e3192"]}, "legend": null}}},
{"data": {"name": "cI"}, "mark": {"type": "line"},
 "encoding": {"x": {"field": "t", "type": "quantitative", "scale": {"domain": [-200, 160], "range": [968.9, 1050.6], "nice": false, "zero": false},
                    "axis": {"orient": "bottom", "offset": -335.3, "values": [-200, -100, 0, 100], "labels": false, "tickSize": 3, "title": null}},
              "y": {"field": "v", "type": "quantitative", "scale": {"domain": [0, 40], "range": [111.7, 28.3], "nice": false, "zero": false},
                    "axis": {"orient": "left", "offset": -1014.3, "values": [0, 10, 20, 30, 40], "labels": false, "tickSize": 3, "title": null, "zindex": 1}},
              "color": {"field": "s", "type": "nominal", "scale": {"domain": ["g", "r", "b"], "range": ["#1fae4b", "#ec2227", "#2e3192"]}, "legend": null}}},
{"data": {"values": [{"s": "g", "label": "In RF"}, {"s": "r", "label": "90° from RF"}, {"s": "b", "label": "Opposite RF"}]},
 "layer": [
  {"mark": {"type": "rule", "strokeWidth": 2.5},
   "encoding": {"x": {"datum": 0, "type": "quantitative", "scale": {"domain": [0, 1], "range": [471, 505], "nice": false, "zero": false}, "axis": null},
                "x2": {"datum": 1},
                "y": {"field": "s", "type": "nominal", "scale": {"type": "point", "domain": ["g", "r", "b"], "range": [76, 115.5], "padding": 0}, "axis": null},
                "color": {"field": "s", "type": "nominal", "scale": {"domain": ["g", "r", "b"], "range": ["#1fae4b", "#ec2227", "#2e3192"]}, "legend": null}}},
  {"mark": {"type": "text", "align": "left", "baseline": "middle", "dx": 7, "fontSize": 15, "font": "Liberation Sans", "color": "#231f20"},
   "encoding": {"x": {"datum": 1, "type": "quantitative", "scale": {"domain": [0, 1], "range": [471, 505], "nice": false, "zero": false}, "axis": null},
                "y": {"field": "s", "type": "nominal", "scale": {"type": "point", "domain": ["g", "r", "b"], "range": [76, 115.5], "padding": 0}, "axis": null},
                "text": {"field": "label", "type": "nominal"}}}
 ]},
{"layer": [
  {"data": {"values": [{"col": "a", "line": "heading", "letter": "a"}, {"col": "b", "line": "heading", "letter": "b"}, {"col": "c", "line": "heading", "letter": "c"}]},
   "mark": {"type": "text", "align": "center", "baseline": "alphabetic", "dx": -143, "fontSize": 37, "fontWeight": "bold", "font": "Liberation Sans", "color": "#231f20"},
   "encoding": {"x": {"field": "col", "type": "nominal", "scale": {"type": "point", "domain": ["a", "b", "c"], "range": [200, 871], "padding": 0}, "axis": null},
                "y": {"field": "line", "type": "nominal", "scale": {"type": "point", "domain": ["heading", "task1", "s1", "s2", "s3", "s4", "task2"], "range": [35, 257], "padding": 0}, "axis": null},
                "text": {"field": "letter", "type": "nominal"}}},
  {"data": {"values": [{"col": "a", "line": "heading", "title": "Type I (N=27)"}, {"col": "b", "line": "heading", "title": "Type II (N=24)"}, {"col": "c", "line": "heading", "title": "Type III (N=34)"}]},
   "mark": {"type": "text", "align": "center", "baseline": "alphabetic", "fontSize": 25.5, "font": "Liberation Sans", "color": "#231f20"},
   "encoding": {"x": {"field": "col", "type": "nominal", "scale": {"type": "point", "domain": ["a", "b", "c"], "range": [200, 873], "padding": 0}, "axis": null},
                "y": {"field": "line", "type": "nominal", "scale": {"type": "point", "domain": ["heading", "task1", "s1", "s2", "s3", "s4", "task2"], "range": [35, 257], "padding": 0}, "axis": null},
                "text": {"field": "title", "type": "nominal"}}},
  {"data": {"values": [{"col": "a", "line": "task1", "label": "Memory-guided saccade task"}, {"col": "a", "line": "task2", "label": "Luminance discrimination task"}]},
   "mark": {"type": "text", "align": "left", "baseline": "alphabetic", "dx": -198, "fontSize": 21, "fontStyle": "italic", "font": "DejaVu Sans", "color": "#231f20"},
   "encoding": {"x": {"field": "col", "type": "nominal", "scale": {"type": "point", "domain": ["a", "b", "c"], "range": [200, 871], "padding": 0}, "axis": null},
                "y": {"field": "line", "type": "nominal", "scale": {"type": "point", "domain": ["heading", "task1", "s1", "s2", "s3", "s4", "task2"], "range": [35, 257], "padding": 0}, "axis": null},
                "text": {"field": "label", "type": "nominal"}}}
 ]}
]
}
